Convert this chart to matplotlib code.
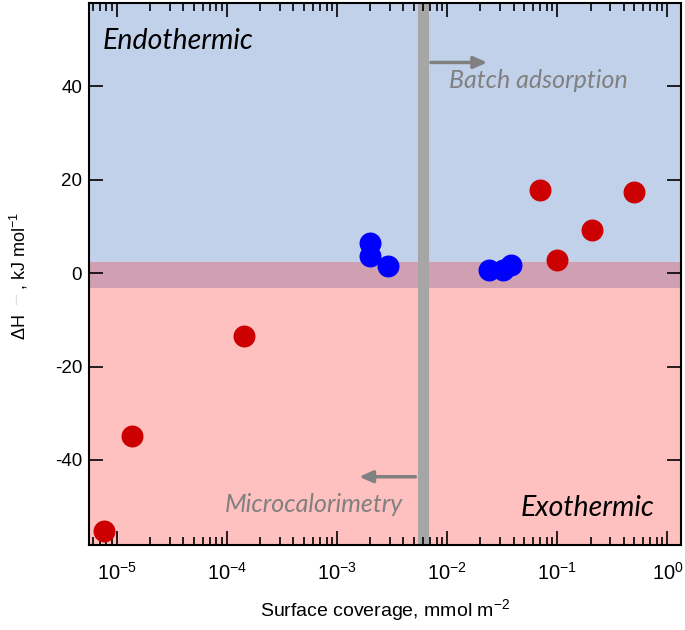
import matplotlib.pyplot as plt
import numpy as np

plt.rcParams['font.family'] = ['Liberation Sans', 'DejaVu Sans']
plt.rcParams['mathtext.fontset'] = 'custom'
plt.rcParams['mathtext.rm'] = 'Liberation Sans'
plt.rcParams['mathtext.it'] = 'Liberation Sans:italic'
plt.rcParams['axes.unicode_minus'] = False

# data
red_x = [7.6e-6, 1.36e-5, 1.41e-4, 0.070, 0.0995, 0.207, 0.498]
red_y = [-55.2, -34.9, -13.5, 17.8, 2.8, 9.2, 17.3]
blue_x = [2.0e-3, 2.0e-3, 2.9e-3, 0.024, 0.032, 0.038]
blue_y = [6.4, 3.6, 1.5, 0.6, 0.7, 1.7]
divider_x = 6.05e-3
band_lo, band_hi = -3.2, 2.4

fig = plt.figure(figsize=(6.85, 6.3), dpi=100)
ax = fig.add_axes([0.130, 0.135, 0.864, 0.860])
ax.set_xscale('log')
ax.set_xlim(10**-5.254, 10**0.122)
ax.set_ylim(-58.2, 57.8)

# shaded regions
ax.axhspan(band_hi, 60, color='#C2D1EA', zorder=0, lw=0)
ax.axhspan(-60, band_lo, color='#FFC0C0', zorder=0, lw=0)
ax.axhspan(band_lo, band_hi, color='#D0A0B2', zorder=0, lw=0)
ax.axvline(divider_x, color='#A6A6A6', lw=8, zorder=1)

ax.scatter(red_x, red_y, s=250, c='#CC0000', zorder=3, lw=0)
ax.scatter(blue_x, blue_y, s=250, c='#0000FF', zorder=3, lw=0)

# arrows and labels
ax.annotate('', xy=(0.0245, 45.1), xytext=(6.7e-3, 45.1),
            arrowprops=dict(arrowstyle='-|>,head_width=0.35,head_length=0.8',
                            color='#808080', lw=2.5))
ax.annotate('', xy=(1.49e-3, -43.6), xytext=(5.44e-3, -43.6),
            arrowprops=dict(arrowstyle='-|>,head_width=0.35,head_length=0.8',
                            color='#808080', lw=2.5))
ax.text(0.0104, 41.3, 'Batch adsorption', color='#808080', style='italic',
        fontsize=18, family='Lato', va='center')
ax.text(3.99e-3, -49.6, 'Microcalorimetry', color='#808080', style='italic',
        fontsize=18, family='Lato', va='center', ha='right')
ax.text(7.4e-6, 49.6, 'Endothermic', color='black', style='italic',
        fontsize=20.5, family='Lato', va='center')
ax.text(0.77, -50.3, 'Exothermic', color='black', style='italic',
        fontsize=20.5, family='Lato', va='center', ha='right')

ax.set_yticks([-40, -20, 0, 20, 40])
ax.tick_params(which='both', direction='in', top=True, right=True,
               width=1.2)
ax.tick_params(axis='y', labelsize=13.5)
ax.tick_params(axis='x', labelsize=14.5)
ax.tick_params(which='major', length=10)
ax.tick_params(axis='y', which='major', pad=5)
ax.tick_params(axis='x', which='major', pad=12)
ax.tick_params(which='minor', length=6)
for s in ax.spines.values():
    s.set_linewidth(1.5)

ax.set_xlabel('Surface coverage, mmol m$^{-2}$', fontsize=14, labelpad=10)
ax.set_ylabel('ΔH     , kJ mol$^{-1}$', fontsize=13, va='center')
ax.yaxis.set_label_coords(-0.118, 0.497)
fig.text(15 / 685, 1 - 300 / 630, '|', color='#CCCCCC', fontsize=7,
         ha='center', va='center')

fig.savefig('out.png', dpi=100)
